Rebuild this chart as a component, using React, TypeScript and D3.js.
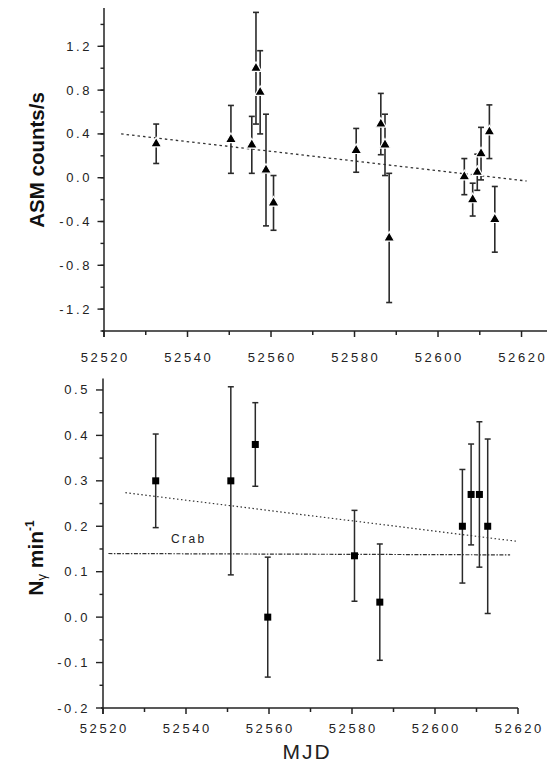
import React from "react";
import * as d3 from "d3";

// ---- Top panel: ASM counts/s ----
const asmMjd = [52532.5, 52550.4, 52555.4, 52556.4, 52557.4, 52558.8, 52560.6, 52580.4, 52586.3, 52587.3, 52588.3, 52606.3, 52608.3, 52609.4, 52610.3, 52612.3, 52613.6];
const asmRate = [0.31, 0.35, 0.30, 1.0, 0.78, 0.07, -0.23, 0.25, 0.49, 0.30, -0.55, 0.01, -0.2, 0.05, 0.22, 0.42, -0.38];
const asmErr = [0.18, 0.31, 0.26, 0.51, 0.38, 0.51, 0.25, 0.2, 0.28, 0.28, 0.59, 0.165, 0.15, 0.165, 0.24, 0.245, 0.3];
const asmFitMjd = [52524.1, 52621.2];
const asmFitRate = [0.4, -0.03];
const asmYTicks = [-1.2, -0.8, -0.4, 0.0, 0.4, 0.8, 1.2];
const asmYLabels = ["-1.2", "-0.8", "-0.4", "0.0", "0.4", "0.8", "1.2"];

// ---- Bottom panel: N_gamma min^-1 ----
const nMjd = [52532.7, 52550.8, 52556.7, 52559.7, 52580.6, 52586.7, 52606.6, 52608.7, 52610.7, 52612.7];
const nRate = [0.3, 0.3, 0.38, 0.0, 0.135, 0.033, 0.2, 0.27, 0.27, 0.2];
const nErr = [0.103, 0.207, 0.092, 0.132, 0.1, 0.128, 0.125, 0.111, 0.16, 0.192];
const nFitMjd = [52525.4, 52619.6];
const nFitRate = [0.274, 0.167];
const crabMjd = [52521.3, 52618.1];
const crabRate = [0.14, 0.137];
const nYTicks = [-0.2, -0.1, 0.0, 0.1, 0.2, 0.3, 0.4, 0.5];
const nYLabels = ["-0.2", "-0.1", "0.0", "0.1", "0.2", "0.3", "0.4", "0.5"];

const xTicks = [52520, 52540, 52560, 52580, 52600, 52620];
const xLabels = ["52520", "52540", "52560", "52580", "52600", "52620"];
const xMinor = [52530, 52550, 52570, 52590, 52610];

const FONT = "'Liberation Sans', Arial, sans-serif";
const INK = "#222";

export default function App() {
  // scales
  const xTop = d3.scaleLinear().domain([52520, 52626.1]).range([104, 547]);
  const yTop = d3.scaleLinear().domain([-1.4, 1.55]).range([331, 8]);
  const xBot = d3.scaleLinear().domain([52520, 52620]).range([103, 518]);
  const yBot = d3.scaleLinear().domain([-0.2, 0.525]).range([708, 378.6]);

  const lineGen = (xs: d3.ScaleLinear<number, number>, ys: d3.ScaleLinear<number, number>, mx: number[], my: number[]) =>
    d3.line<number>().x((_, i) => xs(mx[i])).y((_, i) => ys(my[i]))(mx) || "";

  const tri = d3.symbol().type(d3.symbolTriangle).size(52)() || "";

  const asmMinorY = d3.range(-1.4, 1.5, 0.2).map((v) => +v.toFixed(2));
  const nMinorY = d3.range(-0.15, 0.52, 0.1).map((v) => +v.toFixed(2));

  const labelStyle = { fontFamily: FONT, fontSize: 13, letterSpacing: "2.6px", fill: INK } as const;

  const xAxis = (xs: d3.ScaleLinear<number, number>, y0: number, labelY: number, x1: number) => (
    <g>
      <line x1={xs(52520) - 2} x2={x1} y1={y0} y2={y0} stroke={INK} strokeWidth={1.5} />
      {xTicks.map((t) => (
        <line key={"M" + t} x1={xs(t)} x2={xs(t)} y1={y0} y2={y0 + 6} stroke={INK} strokeWidth={1.5} />
      ))}
      {xMinor.map((t) => (
        <line key={"m" + t} x1={xs(t)} x2={xs(t)} y1={y0} y2={y0 + 4} stroke={INK} strokeWidth={1.5} />
      ))}
      {xTicks.map((t, i) => (
        <text key={"L" + t} x={xs(t) + 1.3} y={labelY} textAnchor="middle" style={labelStyle}>
          {xLabels[i]}
        </text>
      ))}
    </g>
  );

  return (
    <svg width={547} height={765} style={{ position: "absolute", left: 0, top: 0, background: "#fff" }}>
      <rect x={0} y={0} width={547} height={765} fill="#fff" />

      {/* ================= TOP PANEL ================= */}
      <line x1={104} x2={104} y1={yTop(1.55)} y2={331 + 6} stroke={INK} strokeWidth={1.5} />
      {asmMinorY.map((v) => (
        <line key={"tm" + v} x1={104 - 3.5} x2={104} y1={yTop(v)} y2={yTop(v)} stroke={INK} strokeWidth={1.4} />
      ))}
      {asmYTicks.map((v) => (
        <line key={"tM" + v} x1={104 - 6.5} x2={104} y1={yTop(v)} y2={yTop(v)} stroke={INK} strokeWidth={1.4} />
      ))}
      {asmYTicks.map((v, i) => (
        <text key={"tl" + v} x={92} y={yTop(v) + 4.5} textAnchor="end" style={labelStyle}>
          {asmYLabels[i]}
        </text>
      ))}
      {xAxis(xTop, 331, 362, 547)}

      <text
        transform={`translate(44,160) rotate(-90)`}
        textAnchor="middle"
        style={{ fontFamily: FONT, fontSize: 20.5, fontWeight: "bold", fill: "#111" }}
      >
        ASM counts/s
      </text>

      <path d={lineGen(xTop, yTop, asmFitMjd, asmFitRate)} fill="none" stroke="#333" strokeWidth={1.3} strokeDasharray="2.5,3" />

      {asmMjd.map((m, i) => {
        const x = xTop(m);
        const yh = yTop(asmRate[i] + asmErr[i]);
        const yl = yTop(asmRate[i] - asmErr[i]);
        return (
          <g key={"ae" + i}>
            <line x1={x} x2={x} y1={yh} y2={yl} stroke="#2a2a2a" strokeWidth={1.6} />
            <line x1={x - 3} x2={x + 3} y1={yh} y2={yh} stroke="#2a2a2a" strokeWidth={1.6} />
            <line x1={x - 3} x2={x + 3} y1={yl} y2={yl} stroke="#2a2a2a" strokeWidth={1.6} />
          </g>
        );
      })}
      {asmMjd.map((m, i) => (
        <path
          key={"ap" + i}
          d={tri}
          transform={`translate(${xTop(m)},${yTop(asmRate[i])})`}
          fill="#000"
          stroke="#fff"
          strokeWidth={1.2}
        />
      ))}

      {/* ================= BOTTOM PANEL ================= */}
      <line x1={103} x2={103} y1={yBot(0.525)} y2={708 + 6} stroke={INK} strokeWidth={1.5} />
      {nMinorY.map((v) => (
        <line key={"bm" + v} x1={103 - 3.5} x2={103} y1={yBot(v)} y2={yBot(v)} stroke={INK} strokeWidth={1.4} />
      ))}
      {nYTicks.map((v) => (
        <line key={"bM" + v} x1={103 - 7} x2={103} y1={yBot(v)} y2={yBot(v)} stroke={INK} strokeWidth={1.4} />
      ))}
      {nYTicks.map((v, i) => (
        <text key={"bl" + v} x={90} y={yBot(v) + 4.5} textAnchor="end" style={labelStyle}>
          {nYLabels[i]}
        </text>
      ))}
      {xAxis(xBot, 708, 733, 518)}

      <text
        transform={`translate(43,558) rotate(-90)`}
        textAnchor="middle"
        style={{ fontFamily: FONT, fontSize: 21, fontWeight: "bold", fill: "#111" }}
      >
        N<tspan fontSize={13} fontWeight="normal" dy={3}>γ</tspan>
        <tspan dy={-3}> min</tspan>
        <tspan fontSize={12} dy={-9}>-1</tspan>
      </text>

      <text x={307} y={759} textAnchor="middle" style={{ fontFamily: FONT, fontSize: 21, letterSpacing: "2px", fill: INK }}>
        MJD
      </text>

      <path d={lineGen(xBot, yBot, nFitMjd, nFitRate)} fill="none" stroke="#333" strokeWidth={1.2} strokeDasharray="1.5,2.5" />
      <path d={lineGen(xBot, yBot, crabMjd, crabRate)} fill="none" stroke="#333" strokeWidth={1.2} strokeDasharray="4,1.5,1.5,1.5" />
      <text x={171} y={543} style={{ fontFamily: FONT, fontSize: 12, letterSpacing: "2.4px", fill: INK }}>
        Crab
      </text>

      {nMjd.map((m, i) => {
        const x = xBot(m);
        const yh = yBot(nRate[i] + nErr[i]);
        const yl = yBot(nRate[i] - nErr[i]);
        return (
          <g key={"be" + i}>
            <line x1={x} x2={x} y1={yh} y2={yl} stroke="#2a2a2a" strokeWidth={1.5} />
            <line x1={x - 3} x2={x + 3} y1={yh} y2={yh} stroke="#2a2a2a" strokeWidth={1.5} />
            <line x1={x - 3} x2={x + 3} y1={yl} y2={yl} stroke="#2a2a2a" strokeWidth={1.5} />
          </g>
        );
      })}
      {nMjd.map((m, i) => (
        <rect key={"bp" + i} x={xBot(m) - 3.5} y={yBot(nRate[i]) - 3.5} width={7} height={7} fill="#000" />
      ))}
    </svg>
  );
}
